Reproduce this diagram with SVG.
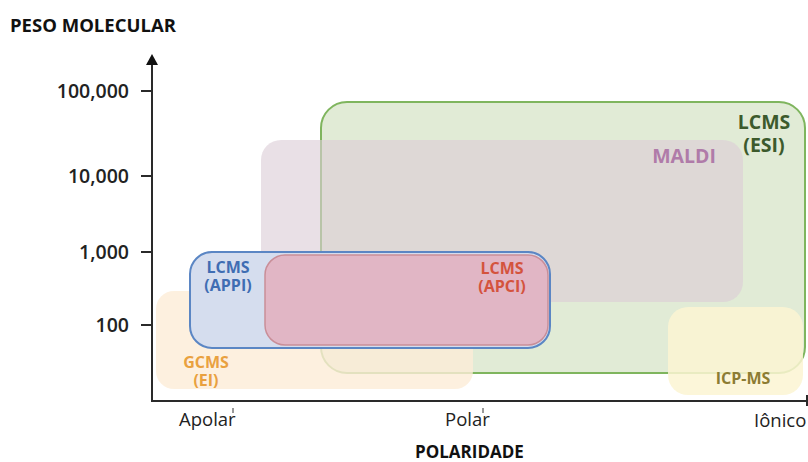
<svg xmlns="http://www.w3.org/2000/svg" width="808" height="462" viewBox="0 0 808 462">
<style>
text{font-family:"Open Sans","Noto Sans","Liberation Sans",sans-serif;}
.title{font-size:17px;font-weight:700;fill:#111;}
.big{font-size:18.5px;}
.tick{font-size:19.5px;font-weight:600;fill:#222;text-anchor:end;}
.xl{font-size:18.5px;font-weight:400;fill:#222;}
.lab{font-weight:700;text-anchor:middle;}
.axis{stroke:#2a2a2a;stroke-width:2;fill:none;}
</style>
<rect width="808" height="462" fill="#fff"/>
<g id="esi">
<rect x="321" y="102" width="484" height="271" rx="26" fill="#e1ebd6" stroke="#7fb55e" stroke-width="2"/>
</g>
<g id="maldi">
<rect x="261" y="140" width="482" height="162" rx="20" fill="rgb(220,205,215)" fill-opacity="0.62"/>
<text class="lab" x="684" y="163" font-size="19.5" fill="#b07ba9">MALDI</text>
</g>
<g id="gcms">
<rect x="156" y="291" width="317" height="98" rx="18" fill="#fcecd7" fill-opacity="0.8"/>
<text class="lab" x="206" y="368" font-size="16" fill="#e9a13f">GCMS</text>
<text class="lab" x="206" y="386" font-size="16" fill="#e9a13f">(EI)</text>
</g>
<g id="icpms">
<rect x="668" y="307" width="135" height="88" rx="20" fill="#fbf5d2" fill-opacity="0.85"/>
<text class="lab" x="743" y="384" font-size="16" fill="#8c7c33">ICP-MS</text>
</g>
<g id="appi">
<rect x="190" y="252" width="360" height="96" rx="22" fill="#d5ddee" stroke="#5b86c4" stroke-width="2"/>
<text class="lab" x="228" y="273" font-size="16" fill="#3f6db3">LCMS</text>
<text class="lab" x="228" y="291" font-size="16" fill="#3f6db3">(APPI)</text>
</g>
<g id="apci">
<rect x="265" y="255" width="283" height="90" rx="20" fill="#e1b6c5" stroke="#c98e98" stroke-width="1.5"/>
<text class="lab" x="502" y="274" font-size="16" fill="#d4533d">LCMS</text>
<text class="lab" x="502" y="292" font-size="16" fill="#d4533d">(APCI)</text>
</g>
<g id="esi-label">
<text class="lab" x="764" y="129" font-size="19.5" fill="#3c5a2c">LCMS</text>
<text class="lab" x="764" y="152" font-size="19.5" fill="#3c5a2c">(ESI)</text>
</g>
<g id="axes">
<line class="axis" x1="152" y1="63" x2="152" y2="401"/>
<polygon points="146,65 158,65 152,54" fill="#111"/>
<line class="axis" x1="151" y1="401" x2="808" y2="401"/>
<line class="axis" x1="807" y1="395" x2="807" y2="406" stroke-width="1.5"/>
<line class="axis" x1="141" y1="91" x2="152" y2="91"/>
<line class="axis" x1="141" y1="176" x2="152" y2="176"/>
<line class="axis" x1="141" y1="252" x2="152" y2="252"/>
<line class="axis" x1="141" y1="325" x2="152" y2="325"/>
<line x1="233" y1="408" x2="233" y2="413" stroke="#555" stroke-width="1.2"/>
<line x1="483" y1="408" x2="483" y2="413" stroke="#555" stroke-width="1.2"/>
</g>
<g id="labels">
<text class="title big" x="10" y="32">PESO MOLECULAR</text>
<text class="tick" x="129" y="98">100,000</text>
<text class="tick" x="129" y="183">10,000</text>
<text class="tick" x="129" y="259">1,000</text>
<text class="tick" x="129" y="332">100</text>
<text class="xl" x="179" y="426">Apolar</text>
<text class="xl" x="445" y="426">Polar</text>
<text class="xl" x="754" y="427">Iônico</text>
<text class="title" x="415" y="458">POLARIDADE</text>
</g>
</svg>
